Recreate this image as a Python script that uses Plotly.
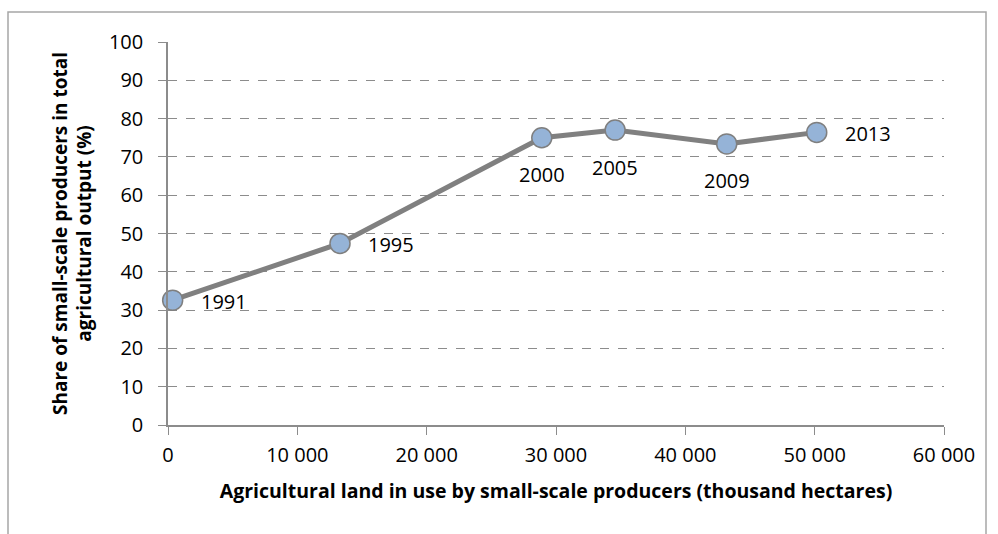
import plotly.graph_objects as go

# Small-scale producers: land in use vs. share of agricultural output
years = ["1991", "1995", "2000", "2005", "2009", "2013"]
land_thousand_ha = [360, 13300, 28900, 34570, 43200, 50160]
output_share_pct = [32.6, 47.4, 75.0, 77.0, 73.4, 76.4]
label_side = ["right", "right", "below", "below", "below", "right"]

x_tick_values = [0, 10000, 20000, 30000, 40000, 50000, 60000]
x_tick_labels = ["0", "10 000", "20 000", "30 000", "40 000", "50 000", "60 000"]
y_tick_values = list(range(0, 101, 10))

FONT = "Open Sans"
AXIS_GREY = "#8c8c8c"
TEXT_SIZE = 20

fig = go.Figure()
fig.add_trace(go.Scatter(
    x=land_thousand_ha,
    y=output_share_pct,
    mode="lines+markers",
    line=dict(color="#808080", width=5),
    marker=dict(size=20, color="#95B3D7", line=dict(color="#7f7f7f", width=1.5)),
    cliponaxis=False,
    showlegend=False,
))

# Year labels next to (or under) each point
for xv, yv, yr, side in zip(land_thousand_ha, output_share_pct, years, label_side):
    if side == "right":
        fig.add_annotation(x=xv, y=yv, text=yr, showarrow=False,
                           xanchor="left", yanchor="middle", xshift=26, yshift=-1)
    else:
        fig.add_annotation(x=xv, y=yv, text=yr, showarrow=False,
                           xanchor="center", yanchor="middle", yshift=-37)

fig.update_annotations(font=dict(family=FONT, size=TEXT_SIZE, color="#000000"))

fig.update_layout(
    width=998,
    height=534,
    margin=dict(l=168, r=54, t=42, b=109),
    paper_bgcolor="white",
    plot_bgcolor="white",
    font=dict(family=FONT, size=TEXT_SIZE, color="#000000"),
    xaxis=dict(
        range=[0, 60000],
        tickvals=x_tick_values,
        ticktext=x_tick_labels,
        showgrid=False,
        zeroline=False,
        showline=True,
        linecolor=AXIS_GREY,
        linewidth=1.5,
        ticks="outside",
        ticklen=8,
        tickcolor=AXIS_GREY,
        ticklabelstandoff=3,
        tickfont=dict(family=FONT, size=TEXT_SIZE),
        title=dict(
            text="<b>Agricultural land in use by small-scale producers (thousand hectares)</b>",
            font=dict(family=FONT, size=19.5),
            standoff=18,
        ),
    ),
    yaxis=dict(
        range=[0, 100],
        tickvals=y_tick_values,
        showgrid=True,
        gridcolor="#8c8c8c",
        gridwidth=1,
        griddash="dash",
        zeroline=False,
        showline=True,
        linecolor=AXIS_GREY,
        linewidth=1.5,
        ticks="outside",
        ticklen=8,
        tickcolor=AXIS_GREY,
        ticklabelstandoff=11,
        tickfont=dict(family=FONT, size=TEXT_SIZE),
        title=dict(
            text="<b>Share of small-scale producers in total<br>agricultural output (%)</b>",
            font=dict(family=FONT, size=19),
            standoff=12,
        ),
    ),
    shapes=[dict(
        type="rect",
        xref="paper", yref="paper",
        x0=(8 - 168) / 776, x1=(986 - 168) / 776,
        y0=(425 - 545) / 383.3, y1=1 + (42 - 12) / 383.3,
        line=dict(color="#a6a6a6", width=1.5),
        fillcolor="rgba(0,0,0,0)",
        layer="below",
    )],
)

fig.write_html("out.html")
